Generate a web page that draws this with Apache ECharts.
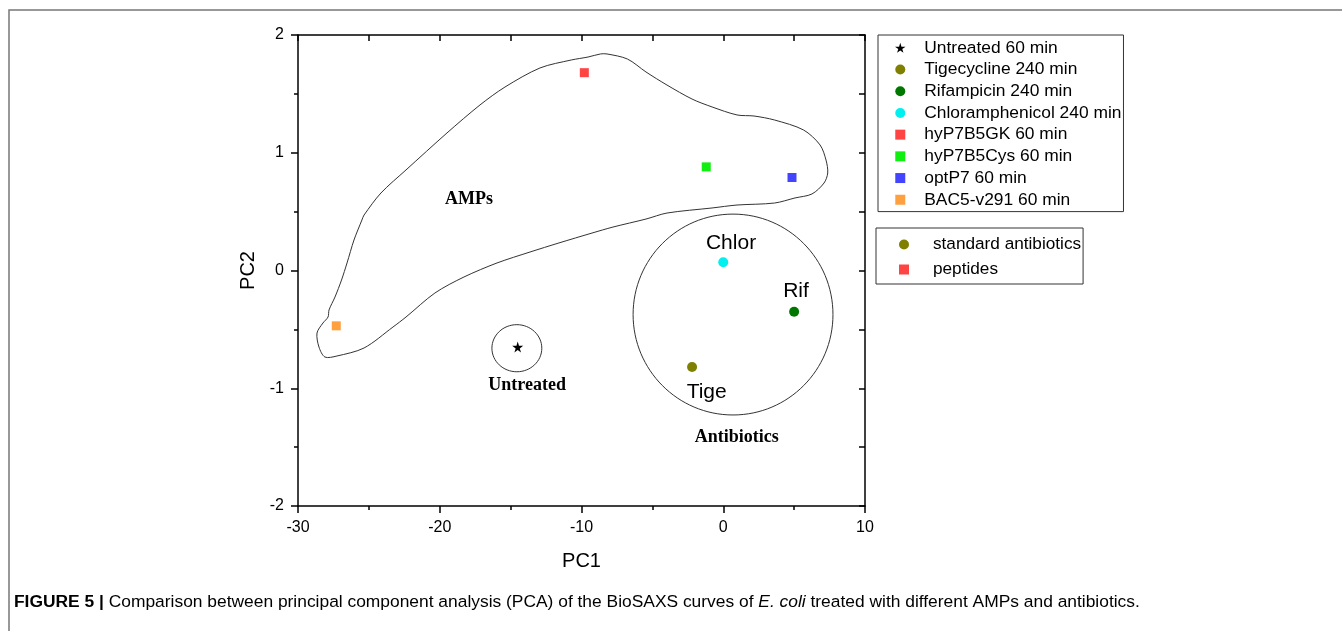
<!DOCTYPE html>
<html>
<head>
<meta charset="utf-8">
<script src="https://cdn.jsdelivr.net/npm/echarts@6/dist/echarts.min.js"></script>
<style>
  html, body { margin: 0; padding: 0; background: #fff; }
  #main { width: 1342px; height: 631px; }
</style>
</head>
<body>
<div id="main"></div>
<script>
// PCA scores: [PC1, PC2]
var sampleNames = ['Untreated 60 min', 'Tigecycline 240 min', 'Rifampicin 240 min', 'Chloramphenicol 240 min',
                   'hyP7B5GK 60 min', 'hyP7B5Cys 60 min', 'optP7 60 min', 'BAC5-v291 60 min'];
var pc1 = [-14.5, -2.2, 5.0, 0.0, -9.8, -1.2, 4.85, -27.3];
var pc2 = [-0.65, -0.82, -0.35, 0.07, 1.68, 0.88, 0.79, -0.47];
var colors = ['#000000', '#7f7f00', '#007800', '#00f0f0', '#ff4444', '#11ee11', '#4444ff', '#ffa040'];
var STAR = 'path://M50,0 L61,35 L98,35 L68,57 L79,91 L50,70 L21,91 L32,57 L2,35 L39,35 Z';
var SQUARE = 'path://M0,0 L10,0 L10,10 L0,10 Z';
var symbols = [STAR, 'circle', 'circle', 'circle', 'rect', 'rect', 'rect', 'rect'];
var groupNames = ['standard antibiotics', 'peptides'];

var xTicks = [-30, 10, 10];   // min, max, interval
var yTicks = [-2, 2, 1];

// hand-drawn group outlines (data units)
var ellipses = [[-14.56, -0.66, 1.76, 0.2], [0.69, -0.374, 7.05, 0.853]];  // cx, cy, rx, ry
var ampContour = [
  [-25.34, 0.471], [-24.15, 0.658], [-22.38, 0.854], [-19.49, 1.168], [-17.16, 1.406], [-15.40, 1.558],
  [-12.93, 1.720], [-10.71, 1.788], [-9.54, 1.813], [-8.66, 1.839], [-8.20, 1.839], [-6.76, 1.796],
  [-5.45, 1.686], [-3.97, 1.575], [-2.20, 1.456], [-0.79, 1.389], [0.97, 1.321], [2.17, 1.312],
  [3.62, 1.278], [5.67, 1.193], [6.83, 1.066], [7.25, 0.938], [7.37, 0.828], [7.11, 0.743],
  [6.26, 0.650], [5.06, 0.616], [3.62, 0.573], [0.97, 0.556], [-0.79, 0.531], [-3.97, 0.488],
  [-5.45, 0.437], [-7.78, 0.369], [-9.26, 0.318], [-11.59, 0.234], [-13.63, 0.157], [-15.96, 0.064],
  [-18.29, -0.055], [-20.34, -0.191], [-22.38, -0.395], [-23.30, -0.480], [-25.34, -0.658], [-27.25, -0.726],
  [-28.10, -0.735], [-28.52, -0.650], [-28.66, -0.531], [-28.24, -0.446], [-27.88, -0.395], [-27.81, -0.335],
  [-27.39, -0.225], [-26.93, -0.081], [-26.54, 0.064], [-26.05, 0.259], [-25.49, 0.429]
];
// annotation texts: [text, PC1, PC2, serif?]
var notes = [
  ['AMPs', -17.94, 0.607, true], ['Untreated', -13.84, -0.972, true], ['Antibiotics', 0.95, -1.414, true],
  ['Chlor', 0.55, 0.236, false], ['Rif', 5.13, -0.18, false], ['Tige', -1.17, -1.03, false]
];

var SANS = '"Liberation Sans", Arial, sans-serif';
var SERIF = '"Liberation Serif", "Times New Roman", serif';

var myChart = echarts.init(document.getElementById('main'));

var series = [];
for (var i = 0; i < sampleNames.length; i++) {
  series.push({
    name: sampleNames[i],
    type: 'scatter',
    symbol: symbols[i],
    symbolSize: i == 0 ? 11 : (symbols[i] == 'rect' ? 9 : 10),
    itemStyle: { color: colors[i], opacity: 1 },
    data: [[pc1[i], pc2[i]]],
    z: 5
  });
}
series.push({ name: groupNames[0], type: 'scatter', symbol: 'circle', itemStyle: { color: '#7f7f00', opacity: 1 }, data: [] });
series.push({ name: groupNames[1], type: 'scatter', symbol: 'rect', itemStyle: { color: '#ff4444', opacity: 1 }, data: [] });

series.push({
  type: 'custom',
  silent: true,
  data: ellipses,
  renderItem: function (params, api) {
    var c = api.coord([api.value(0), api.value(1)]);
    var s = api.size([api.value(2), api.value(3)]);
    return {
      type: 'ellipse',
      shape: { cx: c[0], cy: c[1], rx: s[0], ry: s[1] },
      style: { fill: 'none', stroke: '#333', lineWidth: 1 }
    };
  }
});
series.push({
  type: 'custom',
  silent: true,
  data: [0],
  renderItem: function (params, api) {
    var pts = ampContour.map(function (p) { return api.coord(p); });
    return {
      type: 'polygon',
      shape: { points: pts, smooth: 0.3 },
      style: { fill: 'none', stroke: '#333', lineWidth: 1 }
    };
  }
});
series.push({
  type: 'scatter',
  silent: true,
  symbolSize: 0,
  itemStyle: { opacity: 1 },
  data: notes.map(function (n) {
    return {
      name: n[0], value: [n[1], n[2]],
      label: n[3] ? { fontFamily: SERIF, fontWeight: 'bold', fontSize: 18 } : { fontFamily: SANS, fontSize: 21 }
    };
  }),
  label: { show: true, position: 'inside', color: '#000', opacity: 1, formatter: '{b}' }
});

function legendData(names) {
  return names.map(function (n) {
    var k = sampleNames.indexOf(n);
    var ic;
    if (k >= 0) ic = symbols[k] == 'rect' ? SQUARE : symbols[k];
    else ic = n == groupNames[0] ? 'circle' : SQUARE;
    return { name: n, icon: ic };
  });
}

var xBase = { type: 'value', min: xTicks[0], max: xTicks[1], interval: xTicks[2],
  axisLine: { onZero: false, lineStyle: { color: '#000', width: 1.5 } },
  splitLine: { show: false } };
var yBase = { type: 'value', min: yTicks[0], max: yTicks[1], interval: yTicks[2],
  axisLine: { onZero: false, lineStyle: { color: '#000', width: 1.5 } },
  splitLine: { show: false } };

option = {
  animation: false,
  backgroundColor: '#fff',
  grid: { left: 298, top: 35, width: 567, height: 471 },
  xAxis: [
    Object.assign({}, xBase, {
      position: 'bottom', name: 'PC1', nameLocation: 'middle', nameGap: 45,
      nameTextStyle: { fontSize: 20, color: '#000', fontFamily: SANS },
      axisTick: { show: true, length: 7, lineStyle: { color: '#000', width: 1.5 } },
      minorTick: { show: true, splitNumber: 2, length: 4, lineStyle: { color: '#000', width: 1.5 } },
      axisLabel: { fontSize: 16, color: '#000', fontFamily: SANS, margin: 14 }
    }),
    Object.assign({}, xBase, {
      position: 'top',
      axisTick: { show: true, inside: true, length: 6, lineStyle: { color: '#000', width: 1.5 } },
      minorTick: { show: true, splitNumber: 2, length: 6, lineStyle: { color: '#000', width: 1.5 } },
      axisLabel: { show: false }
    })
  ],
  yAxis: [
    Object.assign({}, yBase, {
      position: 'left', name: 'PC2', nameLocation: 'middle', nameGap: 40,
      nameTextStyle: { fontSize: 20, color: '#000', fontFamily: SANS },
      axisTick: { show: true, length: 7, lineStyle: { color: '#000', width: 1.5 } },
      minorTick: { show: true, splitNumber: 2, length: 4, lineStyle: { color: '#000', width: 1.5 } },
      axisLabel: { fontSize: 16, color: '#000', fontFamily: SANS, margin: 14 }
    }),
    Object.assign({}, yBase, {
      position: 'right',
      axisTick: { show: true, inside: true, length: 6, lineStyle: { color: '#000', width: 1.5 } },
      minorTick: { show: true, splitNumber: 2, length: 6, lineStyle: { color: '#000', width: 1.5 } },
      axisLabel: { show: false }
    })
  ],
  legend: [
    {
      orient: 'vertical', left: 878, top: 35, selectedMode: false,
      data: legendData(sampleNames),
      itemWidth: 34, itemHeight: 10, itemGap: 0,
      padding: [2, 2, 1, 17],
      borderColor: '#333', borderWidth: 1,
      textStyle: { fontSize: 17.4, color: '#000', fontFamily: SANS, lineHeight: 21.7, padding: [0, 0, 0, 2] }
    },
    {
      orient: 'vertical', left: 876, top: 228, selectedMode: false,
      data: legendData(groupNames),
      itemWidth: 40, itemHeight: 10, itemGap: 0,
      padding: [4, 2, 2, 23],
      borderColor: '#333', borderWidth: 1,
      textStyle: { fontSize: 17.2, color: '#000', fontFamily: SANS, lineHeight: 25, padding: [0, 0, 0, 4] }
    }
  ],
  graphic: [
    {
      type: 'polyline', silent: true,
      shape: { points: [[9, 631], [9, 10], [1342, 10]] },
      style: { fill: 'none', stroke: '#777', lineWidth: 1.5 }
    },
    {
      type: 'text', left: 14, top: 594, silent: true,
      style: {
        text: '{b|FIGURE 5 |} Comparison between principal component analysis (PCA) of the BioSAXS curves of {i|E. coli} treated with different AMPs and antibiotics.',
        fontSize: 17.4, fontFamily: SANS, fill: '#000',
        rich: {
          b: { fontWeight: 'bold', fontSize: 17.4, fontFamily: SANS },
          i: { fontStyle: 'italic', fontSize: 17.4, fontFamily: SANS }
        }
      }
    }
  ],
  series: series
};

myChart.setOption(option);
</script>
</body>
</html>
